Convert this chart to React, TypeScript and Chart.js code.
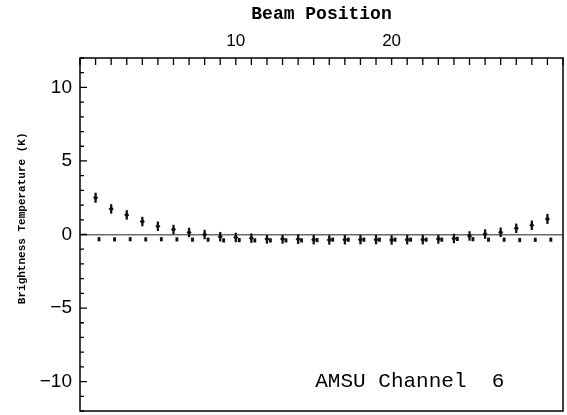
import React, { useEffect, useRef } from "react";
import { Chart, registerables } from "chart.js";

Chart.register(...registerables);

// ---- data ----
const beams = [1, 2, 3, 4, 5, 6, 7, 8, 9, 10, 11, 12, 13, 14, 15, 16, 17, 18, 19, 20, 21, 22, 23, 24, 25, 26, 27, 28, 29, 30];
const series1 = [2.5, 1.74, 1.33, 0.88, 0.56, 0.34, 0.14, 0.0, -0.15, -0.2, -0.25, -0.3, -0.3, -0.32, -0.35, -0.37, -0.35, -0.35, -0.35, -0.37, -0.35, -0.35, -0.3, -0.27, -0.1, 0.03, 0.15, 0.42, 0.63, 1.06];
const series1Err = [0.32, 0.3, 0.3, 0.3, 0.3, 0.3, 0.3, 0.3, 0.3, 0.3, 0.3, 0.3, 0.3, 0.3, 0.3, 0.3, 0.3, 0.3, 0.3, 0.3, 0.3, 0.3, 0.3, 0.3, 0.3, 0.3, 0.3, 0.3, 0.3, 0.32];
const series2 = [-0.32, -0.33, -0.32, -0.33, -0.32, -0.33, -0.35, -0.35, -0.4, -0.38, -0.4, -0.4, -0.4, -0.4, -0.38, -0.35, -0.35, -0.35, -0.35, -0.35, -0.35, -0.35, -0.35, -0.3, -0.32, -0.35, -0.35, -0.38, -0.36, -0.35];
const series2Err = [0.12, 0.12, 0.12, 0.12, 0.12, 0.12, 0.12, 0.12, 0.12, 0.12, 0.12, 0.12, 0.12, 0.12, 0.12, 0.12, 0.12, 0.12, 0.12, 0.12, 0.12, 0.12, 0.12, 0.12, 0.12, 0.12, 0.12, 0.12, 0.12, 0.12];
const xTickValues = [10, 20];
const yTickValues = [-10, -5, 0, 5, 10];
const xRange = [0, 31];
const yRange = [-12, 12];
const series2Offset = 0.22;
const xTitle = "Beam Position";
const yTitle = "Brightness Temperature (K)";
const panelLabel = "AMSU Channel  6";

const frameAndTicks = {
  id: "frameAndTicks",
  afterDatasetsDraw(chart: any) {
    const { ctx, chartArea } = chart;
    const xs = chart.scales.x;
    const ys = chart.scales.y;
    ctx.save();
    ctx.strokeStyle = "#000";
    ctx.lineWidth = 1.5;
    ctx.strokeRect(chartArea.left, chartArea.top, chartArea.right - chartArea.left, chartArea.bottom - chartArea.top);
    ctx.lineWidth = 1.3;
    ctx.beginPath();
    for (let v = xRange[0]; v <= xRange[1]; v++) {
      const px = xs.getPixelForValue(v);
      ctx.moveTo(px, chartArea.top);
      ctx.lineTo(px, chartArea.top + 7);
    }
    for (let v = yRange[0]; v <= yRange[1]; v++) {
      const py = ys.getPixelForValue(v);
      ctx.moveTo(chartArea.left, py);
      ctx.lineTo(chartArea.left + (v % 5 === 0 ? 7 : 4), py);
    }
    ctx.stroke();
    // panel label
    ctx.fillStyle = "#000";
    ctx.font = "21px 'Liberation Mono'";
    ctx.textAlign = "left";
    ctx.textBaseline = "middle";
    ctx.fillText(panelLabel, xs.getPixelForValue(15.1), ys.getPixelForValue(-10));
    // y axis title (placed slightly above the axis centre, as in the reference)
    ctx.font = "bold 11px 'Liberation Mono'";
    ctx.textAlign = "center";
    ctx.translate(22, ys.getPixelForValue(1.1));
    ctx.rotate(-Math.PI / 2);
    ctx.fillText(yTitle, 0, 0);
    ctx.restore();
  },
};

const noScalePadding = (s: any) => {
  s.paddingTop = 0;
  s.paddingBottom = 0;
  s.paddingLeft = 0;
  s.paddingRight = 0;
};

export default function App() {
  const ref = useRef<HTMLCanvasElement | null>(null);
  useEffect(() => {
    if (!ref.current) return;
    Chart.defaults.color = "#000";
    const chart = new Chart(ref.current, {
      type: "scatter",
      data: {
        datasets: [
          {
            type: "bar",
            data: beams.map((b, i) => ({ x: b, y: [series1[i] - series1Err[i], series1[i] + series1Err[i]] })),
            backgroundColor: "#111",
            barThickness: 1.6,
            grouped: false,
          } as any,
          {
            type: "scatter",
            data: beams.map((b, i) => ({ x: b, y: series1[i] })),
            pointStyle: "rectRot",
            pointRadius: 2.6,
            backgroundColor: "#111",
            borderColor: "#111",
            borderWidth: 0,
          },
          {
            type: "bar",
            data: beams.map((b, i) => ({ x: b + series2Offset, y: [series2[i] - series2Err[i], series2[i] + series2Err[i]] })),
            backgroundColor: "#111",
            barThickness: 2.2,
            grouped: false,
          } as any,
        ],
      },
      options: {
        animation: false,
        responsive: false,
        maintainAspectRatio: false,
        layout: { padding: { left: 0, top: 0, right: 4, bottom: 3 } },
        plugins: { legend: { display: false }, tooltip: { enabled: false } },
        scales: {
          x: {
            type: "linear",
            position: "top",
            min: xRange[0],
            max: xRange[1],
            offset: false,
            afterBuildTicks: (s: any) => {
              s.ticks = xTickValues.map((value) => ({ value }));
            },
            afterFit: (s: any) => {
              s.height = 58;
              noScalePadding(s);
            },
            grid: { display: false, drawTicks: false },
            border: { display: false },
            ticks: {
              padding: 6,
              font: { family: "'Liberation Sans'", size: 17 },
              color: "#000",
              maxRotation: 0,
              callback: (v: any) => String(v),
            },
            title: {
              display: true,
              text: xTitle,
              font: { family: "'Liberation Mono'", size: 18, weight: "bold" },
              color: "#000",
              padding: { top: 4, bottom: 0 },
            },
          },
          y: {
            type: "linear",
            min: yRange[0],
            max: yRange[1],
            afterBuildTicks: (s: any) => {
              s.ticks = yTickValues.map((value) => ({ value }));
            },
            afterFit: (s: any) => {
              s.width = 80;
              noScalePadding(s);
            },
            grid: {
              drawTicks: false,
              lineWidth: 1.6,
              color: (c: any) => (c.tick && c.tick.value === 0 ? "#6a6a6a" : "rgba(0,0,0,0)"),
            },
            border: { display: false },
            ticks: {
              padding: 8,
              font: { family: "'Liberation Sans'", size: 19 },
              color: "#000",
              callback: (v: any) => (Number(v) < 0 ? "\u2212" + Math.abs(Number(v)) : String(v)),
            },
            title: { display: false },
          },
        },
      },
      plugins: [frameAndTicks],
    } as any);
    return () => chart.destroy();
  }, []);
  return (
    <div style={{ position: "absolute", left: 0, top: 0, width: 567, height: 415, background: "#fff" }}>
      <canvas ref={ref} width={567} height={415} style={{ display: "block", width: 567, height: 415 }} />
    </div>
  );
}
